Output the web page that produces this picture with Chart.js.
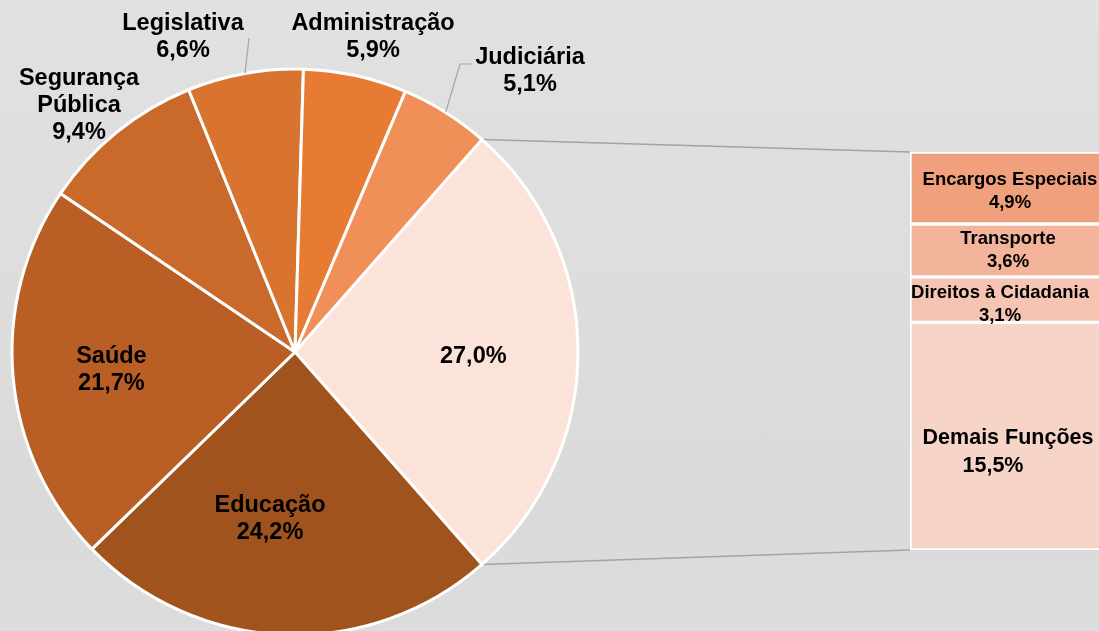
<!DOCTYPE html>
<html lang="pt">
<head>
<meta charset="utf-8">
<script src="https://cdn.jsdelivr.net/npm/chart.js@4.4.1/dist/chart.umd.min.js"></script>
<style>
  html, body { margin: 0; padding: 0; width: 1099px; height: 631px; overflow: hidden; }
  body { background: linear-gradient(#e1e1e1, #dadada 80%, #dcdcdc); position: relative; }
  .layer { position: absolute; left: 0; top: 0; }
</style>
</head>
<body>
<canvas id="barChart" class="layer" width="1106" height="640"></canvas>
<canvas id="pieChart" class="layer" width="1106" height="640"></canvas>
<script>
// pie: first slice is the "others" slice broken out into the bar
const pieLabels = ['Outras', 'Educação', 'Saúde', 'Segurança Pública', 'Legislativa', 'Administração', 'Judiciária'];
const pieValues = [27.0, 24.2, 21.7, 9.4, 6.6, 5.9, 5.1];
const pieColors = ['#fce3da', '#a0531d', '#b95f25', '#c96a2b', '#d97430', '#e87b34', '#f08f58'];

// bar: stacked bottom to top
const barLabels = ['Demais Funções', 'Direitos à Cidadania', 'Transporte', 'Encargos Especiais'];
const barValues = [15.5, 3.1, 3.6, 4.9];
const barColors = ['#f7d4c8', '#f6c4b3', '#f4b39b', '#f1a07d'];

const FONT = '"Liberation Sans", Arial, sans-serif';
const fmt = v => v.toFixed(1).replace('.', ',') + '%';

// label layout (not data): inside labels follow the arc, outside ones are placed
const pieLabelLayout = [
  { inside: true, name: false, dx: 0, dy: 5 },
  { inside: true, dx: -18, dy: -11 },
  { inside: true, dx: -6, dy: 2 },
  { at: [79, 106], wrap: true },
  { at: [183, 37.5], leader: [[249, 38]] },
  { at: [373, 37.5] },
  { at: [530, 71.5], leader: [[472, 64], [460, 64]] }
];
const barLabelLayout = [
  { size: 21.5, lh: 28, dy: 16, dx: [0, -15] },
  { size: 18.5, lh: 23, dy: 5, dx: [-8, -8] },
  { size: 18.5, lh: 23, dy: 0, dx: [0, 0] },
  { size: 18.5, lh: 23, dy: 3.5, dx: [2, 2] }
];

function drawLines(ctx, lines, x, y, size, lh, dxs) {
  ctx.font = `bold ${size}px ${FONT}`;
  ctx.fillStyle = '#000';
  ctx.textAlign = 'center';
  ctx.textBaseline = 'middle';
  const top = y - (lines.length - 1) * lh / 2;
  lines.forEach((t, i) => ctx.fillText(t, x + (dxs ? dxs[i] : 0), top + i * lh));
}

const barOverlay = {
  id: 'barOverlay',
  afterDatasetsDraw(chart) {
    const ctx = chart.ctx;
    chart.data.datasets.forEach((ds, i) => {
      const el = chart.getDatasetMeta(i).data[0];
      const lay = barLabelLayout[i];
      const cy = (el.y + el.base) / 2 + lay.dy;
      drawLines(ctx, [ds.label, fmt(ds.data[0])], el.x, cy, lay.size, lay.lh, lay.dx);
    });
  }
};

const barChart = new Chart(document.getElementById('barChart'), {
  type: 'bar',
  data: {
    labels: [''],
    datasets: barLabels.map((l, i) => ({
      label: l,
      data: [barValues[i]],
      backgroundColor: barColors[i],
      borderColor: '#ffffff',
      borderWidth: 2,
      borderSkipped: false,
      barPercentage: 1,
      categoryPercentage: 1
    }))
  },
  options: {
    responsive: false,
    animation: false,
    layout: { padding: { left: 910, top: 152, right: 0, bottom: 90 } },
    plugins: { legend: { display: false }, tooltip: { enabled: false } },
    scales: {
      x: { display: false, stacked: true },
      y: { display: false, stacked: true, min: 0, max: barValues.reduce((a, b) => a + b, 0) }
    }
  },
  plugins: [barOverlay]
});

const pieOverlay = {
  id: 'pieOverlay',
  beforeDatasetsDraw(chart) {
    // connectors from the broken-out slice to the bar
    const ctx = chart.ctx;
    const arc = chart.getDatasetMeta(0).data[0];
    const top = barChart.getDatasetMeta(barValues.length - 1).data[0];
    const bottom = barChart.getDatasetMeta(0).data[0];
    const left = top.x - top.width / 2;
    ctx.save();
    ctx.strokeStyle = '#a3a3a3';
    ctx.lineWidth = 1.5;
    ctx.beginPath();
    ctx.moveTo(arc.x + Math.cos(arc.startAngle) * arc.outerRadius, arc.y + Math.sin(arc.startAngle) * arc.outerRadius);
    ctx.lineTo(left, top.y);
    ctx.moveTo(arc.x + Math.cos(arc.endAngle) * arc.outerRadius, arc.y + Math.sin(arc.endAngle) * arc.outerRadius);
    ctx.lineTo(left, bottom.base);
    ctx.stroke();
    ctx.restore();
  },
  afterDatasetsDraw(chart) {
    const ctx = chart.ctx;
    const meta = chart.getDatasetMeta(0);
    meta.data.forEach((arc, i) => {
      const lay = pieLabelLayout[i];
      const mid = (arc.startAngle + arc.endAngle) / 2;
      let lines = [pieLabels[i], fmt(pieValues[i])];
      if (lay.name === false) lines = [fmt(pieValues[i])];
      if (lay.wrap) lines = pieLabels[i].split(' ').concat(fmt(pieValues[i]));
      if (lay.leader) {
        ctx.save();
        ctx.strokeStyle = '#a3a3a3';
        ctx.lineWidth = 1.2;
        ctx.beginPath();
        lay.leader.forEach((p, k) => k ? ctx.lineTo(p[0], p[1]) : ctx.moveTo(p[0], p[1]));
        ctx.lineTo(arc.x + Math.cos(mid) * arc.outerRadius, arc.y + Math.sin(mid) * arc.outerRadius);
        ctx.stroke();
        ctx.restore();
      }
      let x, y;
      if (lay.inside) {
        const r = arc.outerRadius * 0.63;
        x = arc.x + Math.cos(mid) * r + lay.dx;
        y = arc.y + Math.sin(mid) * r + lay.dy;
      } else {
        [x, y] = lay.at;
      }
      drawLines(ctx, lines, x, y, 23.5, 27);
    });
  }
};

const total = pieValues.reduce((a, b) => a + b, 0);

new Chart(document.getElementById('pieChart'), {
  type: 'pie',
  data: {
    labels: pieLabels,
    datasets: [{
      data: pieValues,
      backgroundColor: pieColors,
      borderColor: '#ffffff',
      borderWidth: 3,
      hoverOffset: 0
    }]
  },
  options: {
    responsive: false,
    animation: false,
    radius: 283,
    rotation: 90 - pieValues[0] / total * 180,
    layout: { padding: { left: 12, top: 69, right: 528, bottom: 5 } },
    plugins: { legend: { display: false }, tooltip: { enabled: false } }
  },
  plugins: [pieOverlay]
});
</script>
</body>
</html>
